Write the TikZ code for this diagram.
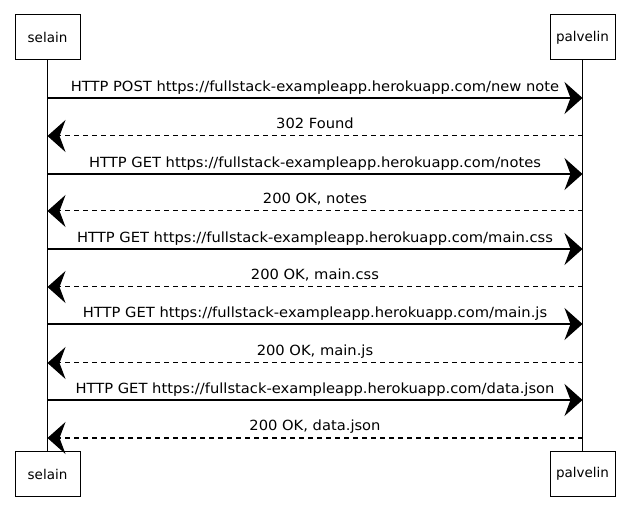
\documentclass[tikz,border=0pt]{standalone}
\usepackage{fontspec}
\setmainfont{DejaVu Sans}
\usetikzlibrary{arrows.meta}
\begin{document}
\begin{tikzpicture}[x=1pt,y=-1pt,
  actor/.style={draw,line width=1pt,minimum width=65pt,minimum height=45pt,
    inner sep=0pt,font=\fontsize{13.5}{15}\selectfont},
  lifeline/.style={line width=0.8pt},
  head/.style={-{Stealth[length=18pt,width=32pt,inset=6pt]}},
  msg/.style={head,line width=1.2pt},
  reply/.style={head,line width=1pt,dash pattern=on 5pt off 4pt},
  lbl/.style={font=\fontsize{14}{16}\selectfont,anchor=base,inner sep=0pt}
]
\useasboundingbox (0,0) rectangle (635,521);

% participants, top and bottom
\node[actor] (ctop) at (47.5,37.5) {selain};
\node[actor] (stop) at (582.5,37.5) {palvelin};
\node[actor] (cbot) at (47.5,474) {selain};
\node[actor] (sbot) at (582.5,474) {palvelin};

% lifelines
\draw[lifeline] (ctop.south) -- (cbot.north);
\draw[lifeline] (stop.south) -- (sbot.north);

% requests (browser -> server)
\foreach \y/\txt [count=\i] in {
  98/{HTTP POST https://fullstack-exampleapp.herokuapp.com/new note},
  174/{HTTP GET https://fullstack-exampleapp.herokuapp.com/notes},
  249/{HTTP GET https://fullstack-exampleapp.herokuapp.com/main.css},
  324/{HTTP GET https://fullstack-exampleapp.herokuapp.com/main.js},
  400/{HTTP GET https://fullstack-exampleapp.herokuapp.com/data.json}}{
  \coordinate (qa\i) at (ctop.south |- 0,\y);
  \coordinate (qb\i) at (stop.south |- 0,\y);
  \draw[msg] (qa\i) -- (qb\i);
  \node[lbl] (ql\i) at (315,\y-6) {\scalebox{1.05}[1]{\txt}};
}
% responses (server -> browser)
\foreach \y/\txt [count=\i] in {
  136/{302 Found},
  211/{200 OK, notes},
  287/{200 OK, main.css},
  363/{200 OK, main.js},
  438/{200 OK, data.json}}{
  \coordinate (ra\i) at (stop.south |- 0,\y);
  \coordinate (rb\i) at (ctop.south |- 0,\y);
  \draw[reply] (ra\i) -- (rb\i);
  \node[lbl] (rl\i) at (315,\y-7) {\scalebox{1.05}[1]{\txt}};
}
\end{tikzpicture}
\end{document}
